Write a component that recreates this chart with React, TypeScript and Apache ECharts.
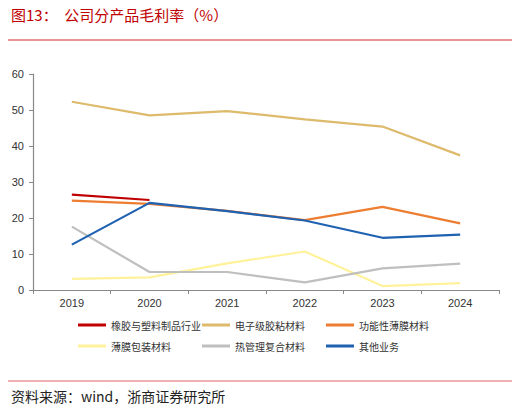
import React, { useEffect, useRef } from "react";
import * as echarts from "echarts";

// categories and series values
const years = ["2019", "2020", "2021", "2022", "2023", "2024"];
const seriesNames = [
  "橡胶与塑料制品行业",
  "电子级胶粘材料",
  "功能性薄膜材料",
  "薄膜包装材料",
  "热管理复合材料",
  "其他业务",
];
const rubberData = [26.5, 25.0, null, null, null, null];
const adhesiveData = [52.3, 48.5, 49.7, 47.4, 45.4, 37.4];
const filmData = [24.8, 23.9, 22.0, 19.4, 23.1, 18.5];
const packagingData = [3.1, 3.5, 7.4, 10.7, 1.1, 1.9];
const thermalData = [17.6, 5.0, 5.0, 2.1, 6.0, 7.3];
const otherData = [12.6, 24.2, 21.9, 19.3, 14.5, 15.4];
const seriesColors = ["#C00000", "#DDBA6C", "#ED7D31", "#FFF29A", "#BFBFBF", "#1F62B2"];

const cjk = "'Noto Sans CJK SC', 'Liberation Sans', sans-serif";

// one legend per item so the columns line up as in the reference
const legendCols = [78, 202, 326];
const legendRows = [320, 341];

const App = () => {
  const chartRef = useRef<HTMLDivElement>(null);

  useEffect(() => {
    if (!chartRef.current) return;
    const chart = echarts.init(chartRef.current, null, { renderer: "svg" });

    const allData = [rubberData, adhesiveData, filmData, packagingData, thermalData, otherData];

    chart.setOption({
      animation: false,
      backgroundColor: "#ffffff",
      color: seriesColors,
      title: [
        {
          text: "图13：  公司分产品毛利率（%）",
          left: 6,
          top: 2,
          textStyle: { color: "#C00000", fontSize: 15, fontWeight: "normal", fontFamily: cjk },
        },
        {
          text: "资料来源：wind，浙商证券研究所",
          left: 6,
          top: 384,
          textStyle: { color: "#222", fontSize: 14, fontWeight: "normal", fontFamily: cjk },
        },
      ],
      graphic: [
        { type: "line", shape: { x1: 5, y1: 40, x2: 515, y2: 40 }, style: { stroke: "#D42A2A", lineWidth: 1.2 } },
        { type: "line", shape: { x1: 5, y1: 381, x2: 515, y2: 381 }, style: { stroke: "#E06666", lineWidth: 1.2 } },
      ],
      legend: seriesNames.map((name, i) => ({
        data: [name],
        left: legendCols[i % 3],
        top: legendRows[Math.floor(i / 3)],
        padding: 0,
        itemWidth: 28,
        itemHeight: 3,
        icon: "rect",
        textStyle: { fontSize: 10, color: "#333", fontFamily: cjk },
      })),
      grid: { left: 33, right: 21, top: 74, bottom: 122 },
      xAxis: {
        type: "category",
        data: years,
        boundaryGap: true,
        axisLine: { lineStyle: { color: "#888", width: 1.2 } },
        axisTick: { show: true, inside: false, length: 4, lineStyle: { color: "#888" } },
        axisLabel: { color: "#333", fontSize: 11, margin: 7, fontFamily: "'Liberation Sans', Arial, sans-serif" },
        splitLine: { show: false },
      },
      yAxis: {
        type: "value",
        min: 0,
        max: 60,
        interval: 10,
        axisLine: { show: true, lineStyle: { color: "#888", width: 1.2 } },
        axisTick: { show: true, length: 4, lineStyle: { color: "#888" } },
        axisLabel: { color: "#333", fontSize: 11, margin: 9, fontFamily: "'Liberation Sans', Arial, sans-serif" },
        splitLine: { show: false },
      },
      series: seriesNames.map((name, i) => ({
        name,
        type: "line",
        data: allData[i],
        symbol: "none",
        lineStyle: { width: 2.2, color: seriesColors[i] },
        itemStyle: { color: seriesColors[i] },
        z: i === 5 ? 5 : 2,
      })),
    });

    return () => {
      chart.dispose();
    };
  }, []);

  return <div ref={chartRef} style={{ width: "520px", height: "412px", margin: "-8px" }} />;
};

export default App;
